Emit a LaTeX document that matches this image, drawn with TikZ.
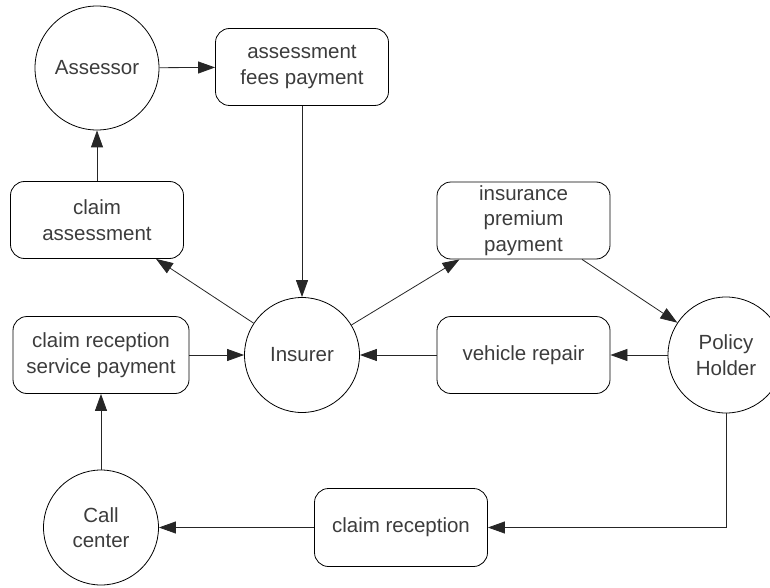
\documentclass[tikz,border=0pt]{standalone}
\usepackage{fontspec}
\setmainfont{Liberation Sans}
\usetikzlibrary{arrows.meta}
\definecolor{inkgray}{HTML}{3C3C3C}
\begin{document}
\begin{tikzpicture}[x=1pt,y=-1pt,
  every node/.style={font=\fontsize{20.5}{25.5}\selectfont, text=inkgray, align=center},
  actor/.style={circle, draw=black, line width=0.8pt, inner sep=0pt, minimum size=#1},
  actor/.default=116pt,
  flowbox/.style={rectangle, rounded corners=14pt, draw=black, line width=0.8pt,
    minimum width=173pt, minimum height=77pt, inner sep=2pt},
  flow/.style={draw=black!85, line width=0.8pt, -{Triangle[length=17pt,width=12pt]}}]
  \useasboundingbox (0,0) rectangle (770,588);

  % participants
  \node[actor=124pt] (assessor) at (97,68) {Assessor};
  \node[actor=115pt] (insurer) at (302,355) {Insurer};
  \node[actor=116pt] (holder) at (726,355) {Policy\\Holder};
  \node[actor=115pt] (callcenter) at (101,527.5) {Call\\center};

  % exchanges
  \node[flowbox] (feespay) at (302,67) {assessment\\fees payment};
  \node[flowbox] (claimassess) at (97,220) {claim\\assessment};
  \node[flowbox] (premium) at (523.5,220.5) {insurance\\premium\\payment};
  \node[flowbox] (repair) at (523.5,355) {vehicle repair};
  \node[flowbox, minimum width=176pt] (crsp) at (101,355) {claim reception\\service payment};
  \node[flowbox, minimum height=78pt] (reception) at (401,527.5) {claim reception};

  % connectors
  \draw[flow] (assessor) -- (feespay);
  \draw[flow] (feespay) -- (insurer);
  \draw[flow] (claimassess) -- (assessor);
  \draw[flow] (insurer) -- (claimassess);
  \draw[flow] (insurer) -- (premium);
  \draw[flow] (premium) -- (holder);
  \draw[flow] (holder) -- (repair);
  \draw[flow] (repair) -- (insurer);
  \draw[flow] (crsp) -- (insurer);
  \draw[flow] (callcenter) -- (crsp);
  \draw[flow] (holder.south) -- (holder.south |- reception.east) -- (reception.east);
  \draw[flow] (reception) -- (callcenter);
\end{tikzpicture}
\end{document}
